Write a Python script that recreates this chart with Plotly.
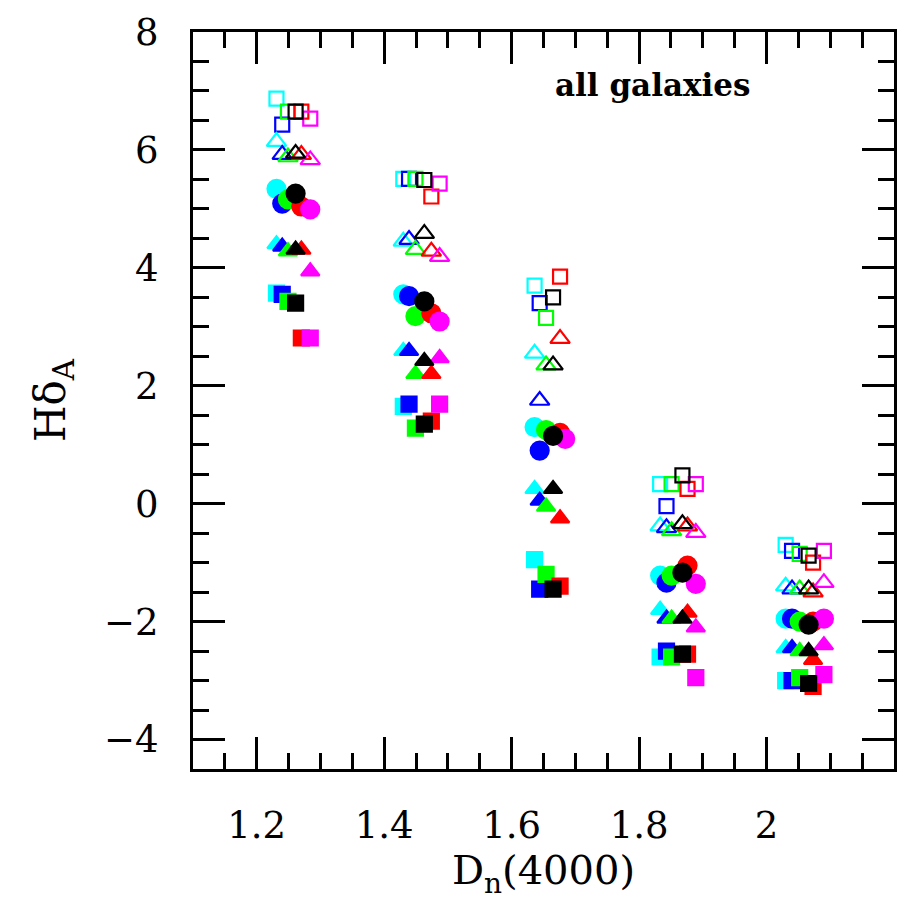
import plotly.graph_objects as go

# colour order inside each cluster (left to right)
COLORS = ["#00FFFF", "#0000FF", "#00FF00", "#000000", "#FF0000", "#FF00FF"]
COLOR_NAMES = ["cyan", "blue", "green", "black", "red", "magenta"]

# Dn(4000) position of each colour, one row per cluster
X_C1 = [1.231, 1.240, 1.249, 1.261, 1.270, 1.284]
X_C2 = [1.430, 1.439, 1.449, 1.463, 1.474, 1.487]
X_C3 = [1.636, 1.644, 1.654, 1.665, 1.676, 1.684]
X_C4 = [1.833, 1.843, 1.851, 1.868, 1.876, 1.889]
X_C5 = [2.030, 2.040, 2.052, 2.066, 2.073, 2.090]
X_CLUSTERS = [X_C1, X_C2, X_C3, X_C4, X_C5]

# HdeltaA values, rows = clusters, columns = colours (cyan, blue, green, black, red, magenta)
# None = not visible in the reference
OPEN_SQUARE = [
    [6.87, 6.43, 6.65, 6.65, 6.65, 6.53],
    [5.51, 5.51, 5.51, 5.49, 5.21, 5.43],
    [3.70, 3.40, 3.15, 3.50, 3.85, None],
    [0.33, -0.04, 0.33, 0.48, 0.25, 0.33],
    [-0.70, -0.80, -0.85, -0.88, -1.00, -0.80],
]
OPEN_TRIANGLE = [
    [6.14, 5.92, 5.88, 5.94, 5.92, 5.83],
    [4.45, 4.48, 4.31, 4.58, 4.28, 4.19],
    [2.55, 1.75, 2.35, 2.35, 2.80, None],
    [-0.38, -0.41, -0.46, -0.34, -0.38, -0.49],
    [-1.40, -1.45, -1.45, -1.45, -1.50, -1.34],
]
FILLED_CIRCLE = [
    [5.34, 5.09, 5.16, 5.26, 5.04, 4.99],
    [3.55, 3.52, 3.18, 3.43, 3.23, 3.09],
    [1.30, 0.90, 1.25, 1.15, 1.20, 1.10],
    [-1.22, -1.34, -1.22, -1.17, -1.05, -1.36],
    [-1.95, -1.95, -2.00, -2.05, -2.00, -1.95],
]
FILLED_TRIANGLE = [
    [4.40, 4.36, 4.28, 4.31, 4.31, 3.94],
    [2.59, 2.59, 2.20, 2.42, 2.20, 2.47],
    [0.25, 0.05, -0.05, 0.25, -0.25, None],
    [-1.80, -1.95, -1.95, -1.95, -1.85, -2.10],
    [-2.45, -2.45, -2.50, -2.50, -2.65, -2.40],
]
FILLED_SQUARE = [
    [3.57, 3.55, 3.43, 3.40, 2.81, 2.81],
    [1.65, 1.69, 1.28, 1.35, 1.40, 1.69],
    [-0.95, -1.45, -1.20, -1.45, -1.40, None],
    [-2.60, -2.50, -2.60, -2.55, -2.55, -2.95],
    [-3.00, -3.00, -2.95, -3.05, -3.10, -2.90],
]

X_TICKS = [1.2, 1.4, 1.6, 1.8, 2.0]
X_TICK_LABELS = ["1.2", "1.4", "1.6", "1.8", "2"]
Y_TICKS = [-4, -2, 0, 2, 4, 6, 8]
Y_TICK_LABELS = ["\u22124", "\u22122", "0", "2", "4", "6", "8"]

SERIES = [
    (OPEN_SQUARE, "square-open", 14),
    (OPEN_TRIANGLE, "triangle-up-open", 17),
    (FILLED_CIRCLE, "circle", 18),
    (FILLED_TRIANGLE, "triangle-up", 16),
    (FILLED_SQUARE, "square", 15),
]

DRAW_ORDER = [0, 1, 2, 4, 5, 3]

fig = go.Figure()
for values, symbol, size in SERIES:
    for ci in DRAW_ORDER:
        xs = [X_CLUSTERS[k][ci] for k in range(len(X_CLUSTERS))]
        ys = [values[k][ci] for k in range(len(values))]
        fig.add_trace(go.Scatter(
            x=xs, y=ys, mode="markers", showlegend=False,
            name=COLOR_NAMES[ci],
            marker=dict(symbol=symbol, size=size, color=COLORS[ci],
                        line=dict(color=COLORS[ci], width=2.2)),
        ))

font_family = "DejaVu Serif"
axis_common = dict(
    ticks="inside", ticklen=32, tickwidth=2.5, tickcolor="black",
    showline=True, linewidth=3, linecolor="black", mirror="allticks",
    showgrid=False, zeroline=False,
    tickfont=dict(family=font_family, size=37, color="black"),
)

fig.update_xaxes(
    range=[1.1, 2.2], tickvals=X_TICKS, ticktext=X_TICK_LABELS,
    minor=dict(dtick=0.05, tick0=1.1, ticks="inside", ticklen=16, tickwidth=2.5, tickcolor="black"),
    title=dict(text="D<sub>n</sub>(4000)", font=dict(family=font_family, size=40, color="black"), standoff=10),
    ticklabelstandoff=22,
    **axis_common,
)
fig.update_yaxes(
    range=[-4.5, 8], tickvals=Y_TICKS, ticktext=Y_TICK_LABELS,
    minor=dict(dtick=0.5, tick0=0, ticks="inside", ticklen=16, tickwidth=2.5, tickcolor="black"),
    title=dict(text="H\u03b4<sub>A</sub>", font=dict(family=font_family, size=42, color="black"), standoff=26),
    ticklabelstandoff=24,
    **axis_common,
)

fig.add_annotation(
    x=1.822, y=7.1, xref="x", yref="y", text="<b>all galaxies</b>", showarrow=False,
    font=dict(family=font_family, size=31, color="black"),
)

fig.update_layout(
    width=908, height=909,
    margin=dict(l=193, r=11, t=30, b=140),
    paper_bgcolor="white", plot_bgcolor="white",
)

fig.write_html("out.html")
